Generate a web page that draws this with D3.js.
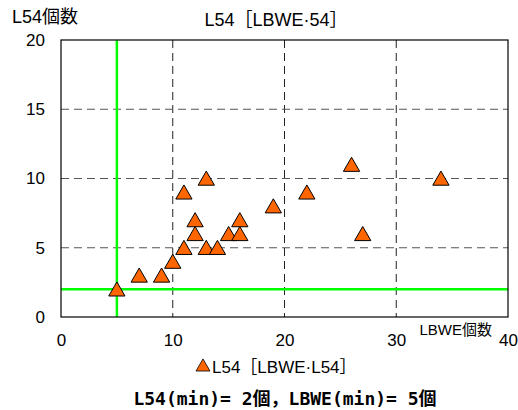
<!DOCTYPE html>
<html><head><meta charset="utf-8">
<script src="https://cdn.jsdelivr.net/npm/d3@7"></script>
<style>
body{margin:0;background:#fff;}
</style></head>
<body>
<svg id="c" width="518" height="410"></svg>
<script>
const xVals = [5,7,9,10,11,11,12,12,13,13,14,15,16,16,19,22,26,27,34];
const yVals = [2,3,3,4,5,9,7,6,10,5,5,6,6,7,8,9,11,6,10];
const xTicks = [0,10,20,30,40];
const yTicks = [0,5,10,15,20];
const minL54 = 2, minLBWE = 5;
const title = "L54［LBWE·54］";
const yTitle = "L54個数";
const xTitle = "LBWE個数";
const legendLabel = "L54［LBWE·L54］";
const footer = "L54(min)= 2個，LBWE(min)= 5個";

const sansF = "'Liberation Sans Narrow','Liberation Sans','Noto Sans CJK JP',sans-serif";
const monoF = "'DejaVu Sans Mono','Noto Sans CJK JP',monospace";

const svg = d3.select("#c");
const L=61,R=508,T=40,B=317;
const x = d3.scaleLinear().domain([0,40]).range([L,R]);
const y = d3.scaleLinear().domain([0,20]).range([B,T]);

// grid
svg.append("g").selectAll("line").data(xTicks.filter(d=>d>0&&d<40)).join("line")
  .attr("x1",d=>x(d)).attr("x2",d=>x(d)).attr("y1",T).attr("y2",B)
  .attr("stroke","#222").attr("stroke-dasharray","8,5").attr("stroke-width",1);
svg.append("g").selectAll("line").data(yTicks.filter(d=>d>0&&d<20)).join("line")
  .attr("y1",d=>y(d)).attr("y2",d=>y(d)).attr("x1",L).attr("x2",R)
  .attr("stroke","#555").attr("stroke-dasharray","8,5").attr("stroke-width",1);

// green min lines
svg.append("line").attr("x1",x(minLBWE)).attr("x2",x(minLBWE)).attr("y1",T).attr("y2",B)
  .attr("stroke","#00ff00").attr("stroke-width",2.5);
svg.append("line").attr("x1",L).attr("x2",R).attr("y1",y(minL54)).attr("y2",y(minL54))
  .attr("stroke","#00ff00").attr("stroke-width",2.5);

// frame
svg.append("rect").attr("x",L).attr("y",T).attr("width",R-L).attr("height",B-T)
  .attr("fill","none").attr("stroke","#000").attr("stroke-width",1.2);

// axes labels
const xa = d3.axisBottom(x).tickValues(xTicks).tickSize(0).tickPadding(17);
const gx = svg.append("g").attr("transform",`translate(0,${B})`).call(xa);
gx.select(".domain").remove();
gx.selectAll("text").attr("fill","#000").style("font-size","17px").style("font-family",sansF);
const ya = d3.axisLeft(y).tickValues(yTicks).tickSize(0).tickPadding(16);
const gy = svg.append("g").attr("transform",`translate(${L},0)`).call(ya);
gy.select(".domain").remove();
gy.selectAll("text").attr("fill","#000").style("font-size","17px").style("font-family",sansF);

// points
const tri = d3.symbol().type(d3.symbolTriangle).size(115);
svg.append("g").selectAll("path").data(xVals.map((v,i)=>[v,yVals[i]])).join("path")
  .attr("d",tri).attr("transform",d=>`translate(${x(d[0])},${y(d[1])+2})`)
  .attr("fill","#ff6600").attr("stroke","#000").attr("stroke-width",1);

// titles
svg.append("text").attr("x",276).attr("y",26).attr("text-anchor","middle")
  .style("font-size","18px").style("font-family",sansF).text(title);
svg.append("text").attr("x",12).attr("y",23)
  .style("font-size","18px").style("font-family",sansF).text(yTitle);
svg.append("text").attr("x",492).attr("y",335).attr("text-anchor","end")
  .style("font-size","15px").style("font-family",sansF).text(xTitle);

// legend
svg.append("path").attr("d",d3.symbol().type(d3.symbolTriangle).size(85))
  .attr("transform","translate(203,367)").attr("fill","#ff6600").attr("stroke","#000").attr("stroke-width",0.8);
svg.append("text").attr("x",212).attr("y",373)
  .style("font-size","17px").style("font-family",sansF).text(legendLabel);

// footer
svg.append("text").attr("x",285).attr("y",405).attr("text-anchor","middle")
  .style("font-size","18px").style("font-weight","bold").style("font-family",monoF).text(footer);
</script>
</body></html>
